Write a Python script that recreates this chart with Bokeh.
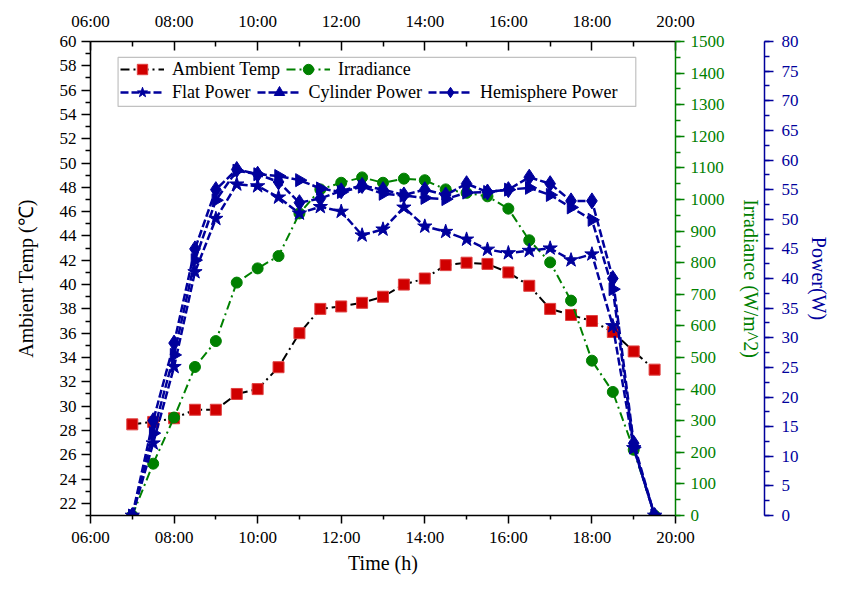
import math
from bokeh.plotting import figure
from bokeh.models import (Range1d, LinearAxis, FixedTicker, Legend, LegendItem,
                          BoxAnnotation)
from bokeh.embed import file_html
from bokeh.resources import INLINE

# ---- data ----
times = ["07:00", "07:30", "08:00", "08:30", "09:00", "09:30", "10:00", "10:30",
         "11:00", "11:30", "12:00", "12:30", "13:00", "13:30", "14:00", "14:30",
         "15:00", "15:30", "16:00", "16:30", "17:00", "17:30", "18:00", "18:30",
         "19:00", "19:30"]
ambient_temp = [28.5, 28.7, 29.0, 29.7, 29.7, 31.0, 31.4, 33.2, 36.0, 38.0, 38.2, 38.5,
                39.0, 40.0, 40.5, 41.6, 41.8, 41.7, 41.0, 39.9, 38.0, 37.5, 37.0, 36.1,
                34.5, 33.0]
irradiance = [0, 164, 310, 470, 552, 737, 782, 821, 956, 1032, 1053, 1070,
              1053, 1066, 1061, 1032, 1021, 1010, 971, 871, 801, 680, 490, 391,
              208, 0]
flat_power = [0, 12.2, 25.1, 41.1, 50.1, 55.9, 55.6, 53.7, 51.0, 52.1, 51.3, 47.3,
              48.3, 52.0, 48.8, 47.9, 46.6, 44.9, 44.3, 44.7, 45.1, 43.1, 44.1, 32.0,
              11.4, 0]
cylinder_power = [0, 13.9, 27.1, 43.1, 53.2, 58.2, 57.6, 57.3, 56.6, 55.2, 54.6, 55.5,
                  54.3, 54.0, 53.6, 53.4, 54.5, 54.6, 55.0, 55.3, 54.1, 52.0, 49.9, 38.2,
                  11.5, 0]
hemisphere_power = [0, 16.0, 29.1, 45.0, 55.0, 58.4, 57.6, 56.3, 52.8, 53.5, 54.8, 55.7,
                    55.0, 54.1, 55.0, 54.1, 56.0, 54.6, 55.0, 57.1, 56.0, 53.1, 53.1, 40.0,
                    12.2, 0]
x_tick_labels = ["06:00", "08:00", "10:00", "12:00", "14:00", "16:00", "18:00", "20:00"]

hours = [int(t[:2]) + int(t[3:]) / 60 for t in times]
x_ticks = [int(s[:2]) for s in x_tick_labels]

FONT = "Liberation Serif"
BLACK = "#000000"
RED = "#d00000"
GREEN = "#008000"
BLUE = "#00009c"

p = figure(width=832, height=576, output_backend="svg", toolbar_location=None,
           x_range=Range1d(6, 20), y_range=Range1d(21, 60),
           min_border_left=90, min_border_right=154, min_border_top=41,
           min_border_bottom=60)
p.extra_y_ranges = {"irr": Range1d(0, 1500), "pow": Range1d(0, 80)}
p.outline_line_color = None
p.xgrid.visible = False
p.ygrid.visible = False
p.background_fill_color = "white"
p.border_fill_color = "white"

xticker = FixedTicker(ticks=x_ticks, minor_ticks=[x + 1 for x in x_ticks[:-1]])
overrides = {x: s for x, s in zip(x_ticks, x_tick_labels)}


def style_axis(ax, color, fs="17px"):
    ax.axis_line_color = color
    ax.axis_line_width = 1.5
    ax.major_tick_line_color = color
    ax.minor_tick_line_color = color
    ax.major_tick_line_width = 1.5
    ax.minor_tick_line_width = 1.5
    ax.major_label_text_color = color
    ax.major_label_text_font = FONT
    ax.major_label_text_font_size = fs
    ax.axis_label_text_color = color
    ax.axis_label_text_font = FONT
    ax.axis_label_text_font_size = "20px"
    ax.axis_label_text_font_style = "normal"


# bottom axis
xb = p.xaxis[0]
xb.ticker = xticker
xb.major_label_overrides = overrides
style_axis(xb, BLACK)
xb.major_tick_out = 8
xb.major_tick_in = 0
xb.minor_tick_out = 4
xb.minor_tick_in = 0
xb.major_label_standoff = 4
xb.axis_label = "Time (h)"
xb.axis_label_standoff = 2

# top axis
xt = LinearAxis(ticker=xticker, major_label_overrides=overrides)
style_axis(xt, BLACK)
xt.major_tick_out = 0
xt.major_tick_in = 9
xt.minor_tick_out = 0
xt.minor_tick_in = 5
xt.major_label_standoff = 11
p.add_layout(xt, "above")

# left axis
yl = p.yaxis[0]
yl.ticker = FixedTicker(ticks=list(range(22, 61, 2)), minor_ticks=list(range(21, 61, 2)))
style_axis(yl, BLACK)
yl.major_tick_out = 9
yl.major_tick_in = 0
yl.minor_tick_out = 5
yl.minor_tick_in = 0
yl.major_label_standoff = 5
yl.axis_label = "Ambient Temp (℃)"
yl.axis_label_standoff = 20

# irradiance axis
yi = LinearAxis(y_range_name="irr",
                ticker=FixedTicker(ticks=list(range(0, 1501, 100)),
                                   minor_ticks=list(range(0, 1501, 50))))
style_axis(yi, GREEN)
yi.major_tick_out = 9
yi.major_tick_in = 0
yi.minor_tick_out = 5
yi.minor_tick_in = 0
yi.major_label_standoff = 6
yi.axis_label = "Irradiance (W/m^2)"
yi.axis_label_standoff = 12
p.add_layout(yi, "right")

# power axis
yp = LinearAxis(y_range_name="pow",
                ticker=FixedTicker(ticks=list(range(0, 81, 5)),
                                   minor_ticks=[i * 2.5 for i in range(33)]))
style_axis(yp, BLUE)
yp.major_tick_out = 9
yp.major_tick_in = 0
yp.minor_tick_out = 5
yp.minor_tick_in = 0
yp.major_label_standoff = 8
yp.axis_label = "Power(W)"
yp.axis_label_standoff = 6
p.add_layout(yp, "right")

# legend frame
box = BoxAnnotation(left=6.66, right=19.05, top=58.69, bottom=54.66,
                    fill_color="white", fill_alpha=1.0, line_color="#333333",
                    line_width=1.2, level="overlay")
p.add_layout(box)

# series
l_amb = p.line(hours, ambient_temp, line_color=BLACK, line_width=2, line_dash="9 4 2 4")
s_amb = p.scatter(hours, ambient_temp, marker="square", size=11, fill_color=RED,
                  line_color="#e04040", line_width=1)

l_irr = p.line(hours, irradiance, y_range_name="irr", line_color=GREEN, line_width=2,
               line_dash="9 4 2 4")
s_irr = p.scatter(hours, irradiance, y_range_name="irr", marker="circle", size=11,
                  fill_color=GREEN, line_color=GREEN)

l_flat = p.line(hours, flat_power, y_range_name="pow", line_color=BLUE, line_width=2.5,
                line_dash="8 3")
s_flat = p.scatter(hours, flat_power, y_range_name="pow", marker="star", size=15,
                   fill_color=BLUE, line_color=BLUE)

l_cyl = p.line(hours, cylinder_power, y_range_name="pow", line_color=BLUE, line_width=2.5,
               line_dash="8 3")
s_cyl = p.scatter(hours, cylinder_power, y_range_name="pow", marker="triangle", size=13,
                  angle=-math.pi / 2, fill_color=BLUE, line_color=BLUE)

l_hem = p.line(hours, hemisphere_power, y_range_name="pow", line_color=BLUE,
               line_width=2.5, line_dash="8 3")
s_hem = p.scatter(hours, hemisphere_power, y_range_name="pow", marker="diamond", size=16,
                  fill_color=BLUE, line_color=BLUE)


def make_legend(items, loc):
    lg = Legend(items=items, location=loc, orientation="horizontal",
                label_text_font=FONT, label_text_font_size="18px",
                label_text_color="#000000", glyph_width=44, glyph_height=26,
                label_height=20, label_standoff=8, spacing=6, padding=0, margin=0,
                border_line_color=None, background_fill_alpha=0)
    return lg


leg1 = make_legend([LegendItem(label="Ambient Temp", renderers=[l_amb, s_amb]),
                    LegendItem(label="Irradiance", renderers=[l_irr, s_irr])], (30, 433))
leg2 = make_legend([LegendItem(label="Flat Power", renderers=[l_flat, s_flat]),
                    LegendItem(label="Cylinder Power", renderers=[l_cyl, s_cyl]),
                    LegendItem(label="Hemisphere Power", renderers=[l_hem, s_hem])],
                   (30, 410))
p.add_layout(leg1)
p.add_layout(leg2)

open("out.html", "w").write(file_html(p, INLINE))
